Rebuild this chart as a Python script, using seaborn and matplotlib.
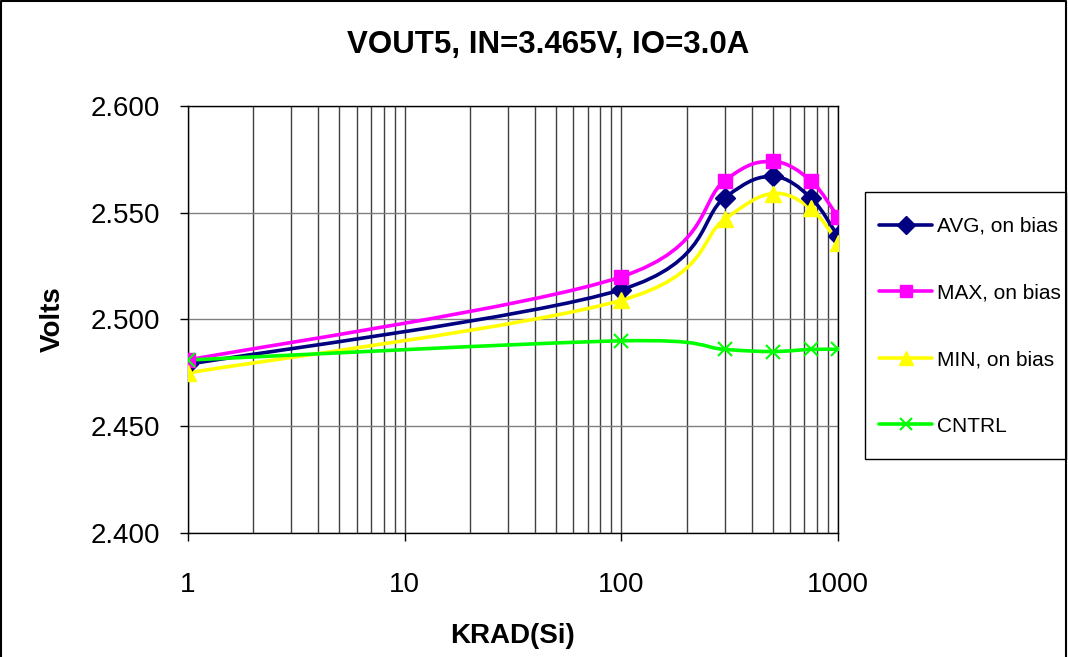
import numpy as np
import seaborn as sns
import matplotlib.pyplot as plt
import pandas as pd
from matplotlib.path import Path
from matplotlib.patches import PathPatch, Rectangle
from matplotlib.lines import Line2D

# dose points (krad) and measured output voltage
krad = [1, 100, 300, 500, 750, 1000]
avg_on = [2.479, 2.514, 2.557, 2.567, 2.557, 2.539]
max_on = [2.481, 2.520, 2.565, 2.574, 2.565, 2.548]
min_on = [2.475, 2.509, 2.547, 2.559, 2.552, 2.536]
cntrl = [2.481, 2.490, 2.486, 2.485, 2.486, 2.486]

series = [
    ("AVG, on bias", avg_on, "#000080", "D", 10.5),
    ("MAX, on bias", max_on, "#FF00FF", "s", 10),
    ("MIN, on bias", min_on, "#FFFF00", "^", 12),
    ("CNTRL", cntrl, "#00FF00", "x", 10),
]

sns.set_style("white")
plt.rcParams['font.family'] = ['Liberation Sans', 'DejaVu Sans']
plt.rcParams['text.color'] = 'black'
plt.rcParams['axes.labelcolor'] = 'black'
plt.rcParams['xtick.color'] = 'black'
plt.rcParams['ytick.color'] = 'black'


def smooth_path(xs, ys):
    # excel-style smoothed line: cubic bezier segments, tangents from neighbours (log x space)
    X = np.log10(np.asarray(xs, float))
    Y = np.asarray(ys, float)
    P = np.column_stack([X, Y])
    n = len(P)
    verts = [P[0]]
    codes = [Path.MOVETO]
    for i in range(n - 1):
        p_prev = P[i - 1] if i > 0 else P[i]
        p_next2 = P[i + 2] if i + 2 < n else P[i + 1]
        c1 = P[i] + (P[i + 1] - p_prev) / 6
        c2 = P[i + 1] - (p_next2 - P[i]) / 6
        verts += [c1, c2, P[i + 1]]
        codes += [Path.CURVE4] * 3
    verts = np.array(verts)
    verts[:, 0] = 10 ** verts[:, 0]
    return Path(verts, codes)


fig = plt.figure(figsize=(10.68, 6.57), dpi=100)
ax = fig.add_axes([0.176, 0.1887, 0.6086, 0.65])

handles = []
for name, vals, col, mk, ms in series:
    df = pd.DataFrame({"krad": krad, "volts": vals})
    ax.add_patch(PathPatch(smooth_path(krad, vals), fill=False, edgecolor=col, lw=2.6, zorder=3))
    mew = 1.5 if mk == "x" else 1
    sns.lineplot(data=df, x="krad", y="volts", ax=ax, color=col, marker=mk, markersize=ms,
                 linestyle="none", markeredgecolor=col, markeredgewidth=mew, zorder=4)
    handles.append(Line2D([0], [0], color=col, lw=2.6, marker=mk, markersize=ms * 0.85,
                          markeredgecolor=col, markeredgewidth=mew, label=name))

ax.set_xscale("log")
ax.set_xlim(1, 1000)
ax.set_ylim(2.400, 2.600)
ax.set_xticks([1, 10, 100, 1000])
ax.set_xticklabels(["1", "10", "100", "1000"])
ax.set_yticks(np.arange(2.400, 2.6001, 0.05))
ax.set_yticklabels(["{:.3f}".format(v) for v in np.arange(2.400, 2.6001, 0.05)])
ax.tick_params(axis="both", which="major", direction="out", length=6, width=1,
               labelsize=20, color="black", left=True, bottom=True)
ax.tick_params(axis="x", which="major", pad=22)
ax.tick_params(axis="y", which="major", pad=14)
ax.tick_params(axis="x", which="minor", length=0)

ax.grid(True, axis="x", which="both", color="#404040", lw=1)
ax.grid(True, axis="y", which="major", color="#808080", lw=1)
for s in ax.spines.values():
    s.set_color("black")
    s.set_linewidth(1)

ax.set_xlabel("KRAD(Si)", fontsize=20, fontweight="bold", labelpad=18)
ax.set_ylabel("Volts", fontsize=20, fontweight="bold", labelpad=18)
fig.text(0.513, 0.931, "VOUT5, IN=3.465V, IO=3.0A", ha="center", va="center",
         fontsize=22.5, fontweight="bold")

# legend box drawn separately so the padding can match
fig.add_artist(Rectangle((865 / 1068, 1 - 459 / 657), 201 / 1068, 267 / 657,
                         transform=fig.transFigure, facecolor="white",
                         edgecolor="black", lw=1, zorder=1))
leg = fig.legend(handles=handles, loc="upper left", bbox_to_anchor=(879 / 1068, 1 - 217 / 657),
                 frameon=False, fontsize=15, handlelength=2.55,
                 handletextpad=0.25, labelspacing=2.28, borderpad=0, borderaxespad=0)
leg.set_zorder(5)
for t in leg.get_texts():
    t.set_color("black")

# outer chart border
fig.add_artist(Line2D([0.001, 0.001, 0.998, 0.998], [0, 0.999, 0.999, 0],
                      transform=fig.transFigure, color="black", lw=1.5))

fig.savefig("out.png", dpi=100)
